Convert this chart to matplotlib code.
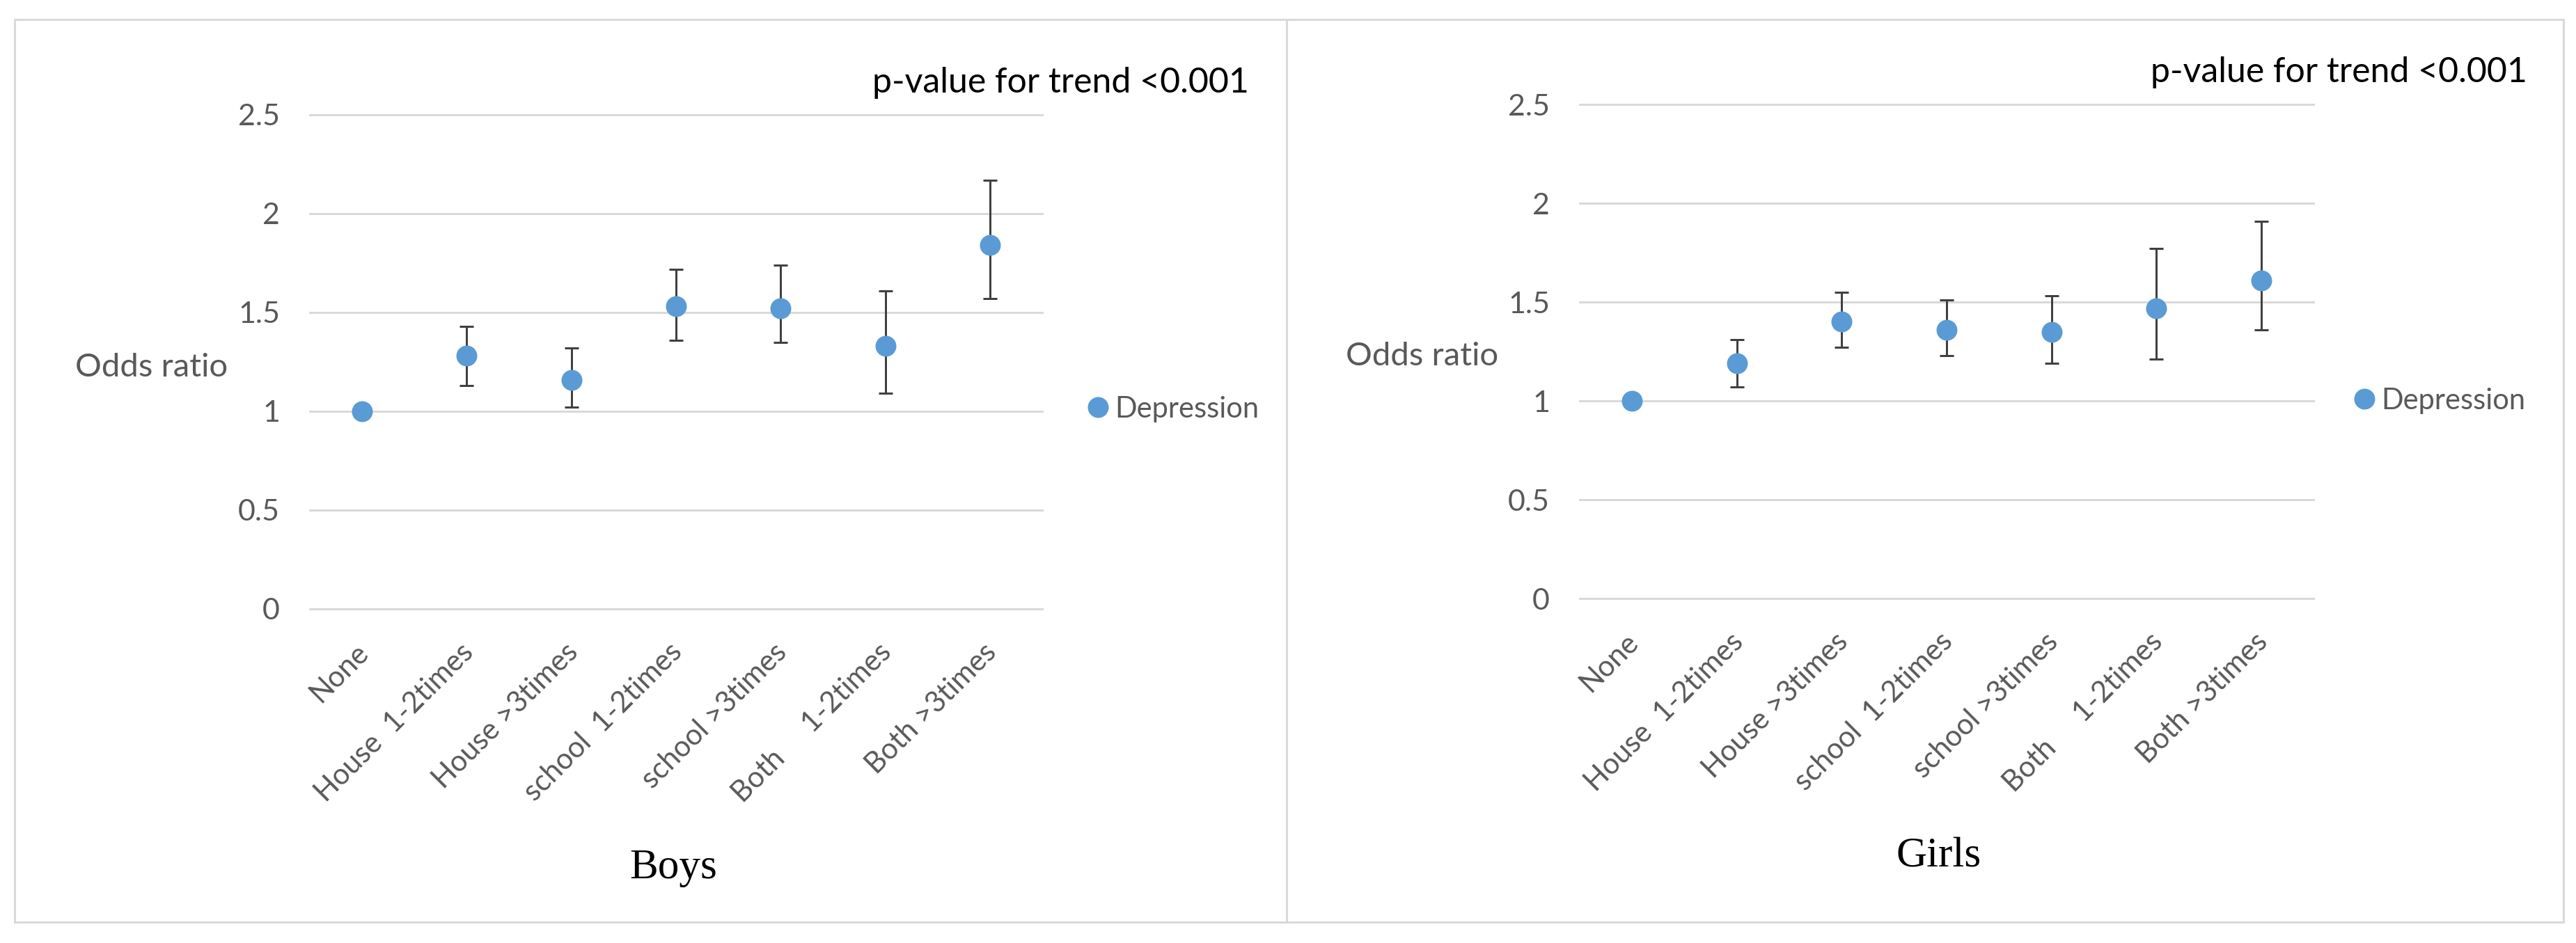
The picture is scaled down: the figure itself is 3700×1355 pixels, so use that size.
import numpy as np
import matplotlib
matplotlib.use("Agg")
import matplotlib.pyplot as plt
from matplotlib.lines import Line2D
from matplotlib.patches import Rectangle
import matplotlib.transforms as mtransforms

# ---------------- data ----------------
categories = ["None", "House  1-2times", "House >3times", "school  1-2times",
              "school >3times", "Both     1-2times", "Both >3times"]
yticks = [0, 0.5, 1, 1.5, 2, 2.5]
ytick_labels = ["0", "0.5", "1", "1.5", "2", "2.5"]

boys_or = [1.00, 1.28, 1.16, 1.53, 1.52, 1.33, 1.84]
boys_lo = [np.nan, 1.13, 1.02, 1.36, 1.35, 1.09, 1.57]
boys_hi = [np.nan, 1.43, 1.32, 1.72, 1.74, 1.61, 2.17]

girls_or = [1.00, 1.19, 1.40, 1.36, 1.35, 1.47, 1.61]
girls_lo = [np.nan, 1.07, 1.27, 1.23, 1.19, 1.21, 1.36]
girls_hi = [np.nan, 1.31, 1.55, 1.51, 1.53, 1.77, 1.91]

series_name = "Depression"
ptext = "p-value for trend <0.001"
ylabel = "Odds ratio"
titles = ["Boys", "Girls"]

# ---------------- style ----------------
W, H = 3700, 1355
DPI = 100
PX = 72.0 / DPI  # points per pixel
SANS = ["Lato", "DejaVu Sans"]
SERIF = ["Liberation Serif", "DejaVu Serif"]
GRAY_TXT = "#595959"
GRID = "#d9d9d9"
BLUE = "#5B9BD5"
ERR = "#404040"
FS_YTICK = 31
FS_XTICK = 30
FS_YLAB = 34
FS_LEG = 30
FS_TEXT = 36

plt.rcParams["font.family"] = SANS

fig = plt.figure(figsize=(W / DPI, H / DPI), dpi=DPI)
fig.patch.set_facecolor("white")


def fx(px):
    return px / W


def fy(py):
    return 1 - py / H


panels = [
    dict(ax=(445, 165, 1497, 875), box=(21, 28, 1848, 1325),
         or_=boys_or, lo=boys_lo, hi=boys_hi,
         ptxt=(1794, 133), ylab=(108, 541), leg=(1564, 588), title=(967, 1262)),
    dict(ax=(2269, 150, 3323, 860), box=(1848, 28, 3682, 1325),
         or_=girls_or, lo=girls_lo, hi=girls_hi,
         ptxt=(3630, 118), ylab=(1933, 525), leg=(3383, 576), title=(2785, 1245)),
]

for i, p in enumerate(panels):
    # panel border
    x0, y0, x1, y1 = p["box"]
    fig.add_artist(Rectangle((fx(x0), fy(y1)), fx(x1 - x0), (y1 - y0) / H,
                             transform=fig.transFigure, fill=False,
                             edgecolor=GRID, linewidth=3 * PX, zorder=0))

    l, t, r, b = p["ax"]
    ax = fig.add_axes([fx(l), fy(b), fx(r - l), (b - t) / H])
    ax.set_facecolor("none")
    n = len(categories)
    x = np.arange(n)
    ax.set_xlim(-0.5, n - 0.5)
    ax.set_ylim(0, 2.5)
    for s in ax.spines.values():
        s.set_visible(False)
    ax.set_yticks(yticks)
    ax.set_yticklabels(ytick_labels)
    ax.yaxis.grid(True, color=GRID, linewidth=3 * PX)
    for gl in ax.get_ygridlines():
        gl.set_clip_on(False)
    ax.set_axisbelow(True)
    ax.tick_params(axis="y", length=0, pad=43 * PX, labelsize=FS_YTICK,
                   labelcolor=GRAY_TXT)
    ax.set_xticks(x)
    ax.set_xticklabels(categories)
    ax.tick_params(axis="x", length=0, pad=56 * PX, labelsize=FS_XTICK,
                   labelcolor=GRAY_TXT)
    offset = mtransforms.ScaledTranslation(3 / DPI, 0, fig.dpi_scale_trans)
    for lbl in ax.get_xticklabels():
        lbl.set_rotation(45)
        lbl.set_ha("right")
        lbl.set_va("center")
        lbl.set_rotation_mode("anchor")
        lbl.set_transform(lbl.get_transform() + offset)

    orv = np.array(p["or_"])
    lo = np.array(p["lo"])
    hi = np.array(p["hi"])
    m = ~np.isnan(lo)
    ax.errorbar(x[m], orv[m], yerr=[orv[m] - lo[m], hi[m] - orv[m]], fmt="none",
                ecolor=ERR, elinewidth=3 * PX, capsize=10 * PX,
                capthick=3 * PX, zorder=3, clip_on=False)
    ax.plot(x, orv, linestyle="none", marker="o", markersize=30 * PX,
            color=BLUE, markeredgewidth=0, zorder=4, clip_on=False)

    # p-value text
    tx, ty = p["ptxt"]
    fig.text(fx(tx), fy(ty), ptext, ha="right", va="baseline",
             fontsize=FS_TEXT, color="black")
    # y label
    lx, ly = p["ylab"]
    fig.text(fx(lx), fy(ly), ylabel, ha="left", va="baseline",
             fontsize=FS_YLAB, color=GRAY_TXT)
    # legend
    gx, gy = p["leg"]
    handle = Line2D([], [], linestyle="none", marker="o", markersize=30 * PX,
                    color=BLUE, markeredgewidth=0)
    fig.legend([handle], [series_name], loc="center left",
               bbox_to_anchor=(fx(gx), fy(gy)), frameon=False,
               handlelength=0.6, handletextpad=0.3, borderpad=0,
               borderaxespad=0, fontsize=FS_LEG, labelcolor=GRAY_TXT)
    # bottom title
    cx, cy = p["title"]
    fig.text(fx(cx), fy(cy), titles[i], ha="center", va="baseline",
             fontsize=44, color="black", family=SERIF)

fig.savefig("out.png", dpi=DPI, facecolor="white")
